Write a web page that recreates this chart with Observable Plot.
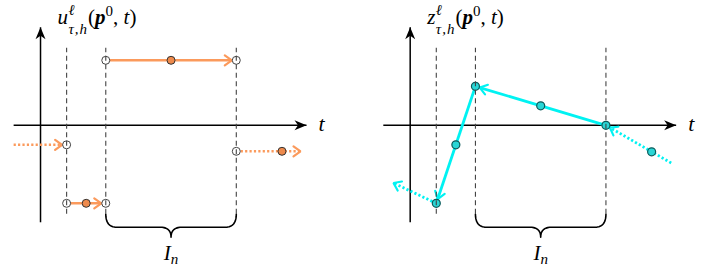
<!DOCTYPE html>
<html><head><meta charset="utf-8">
<script src="https://cdn.jsdelivr.net/npm/d3@7"></script>
<script src="https://cdn.jsdelivr.net/npm/@observablehq/plot@0.6"></script>
<style>
body{margin:0;background:#fff;}
#wrap{display:flex;width:706px;height:273px;overflow:hidden;}
#wrap svg text{font-family:"Liberation Serif","DejaVu Serif",serif !important;}
</style></head><body><div id="wrap"></div>
<script>
// ---------- data ----------
const nodesT = [1, 2.5, 7.5];            // t_{n-2}, t_{n-1}, t_n  (dashed lines)
const intervalT = [2.5, 7.5];            // I_n
const axisT = [-1.03, 10.19];            // horizontal axis extent
const axisV = [-3.73, 3.77];             // vertical axis extent
const dashV = [-3.42, 2.96];             // dashed guide extent

// left panel: piecewise constant u
const uT1 = [-1.03, 1, 2.5, 7.5];
const uT2 = [1, 2.5, 7.5, 9.96];
const uV  = [-0.75, -3, 2.5, -1];
const uDotted = [true, false, false, true];
const uHeadAtNode = [true, true, true, false];
const uMidT = [1.75, 5, 9.25];
const uMidV = [-3, 2.5, -1];

// right panel: piecewise linear z
const zNodeV = [-3, 1.5, 0];
const zMidT = [1.75, 5, 9.25];
const zMidV = [-0.75, 0.75, -1.02];
const zFromT = [7.5, 2.5, 10.0, 1];
const zFromV = [0, 1.5, -1.45, -3];
const zToT   = [2.5, 1, 7.5, -0.64];
const zToV   = [1.5, -3, 0, -2.22];
const zDotted = [false, false, true, true];
const zHeadAtNode = [true, true, true, false];

// labels
const uLabel = ["u", "ℓ", "τ,h", "p", "0", "t"];
const zLabel = ["z", "ℓ", "τ,h", "p", "0", "t"];
const tLabel = "t";
const inLabel = ["I", "n"];

// ---------- helpers ----------
const SERIF = "'Liberation Serif', 'DejaVu Serif', serif";
const ORANGE = "#fb9a5c", ORANGE_DOT = "#ee8a4c";
const CYAN = "#00f2f2", CYAN_DOT = "#2ad6d6", CYAN_EDGE = "#0d5a5a";

function chevron(offset) {
  return (color) => {
    const m = d3.create("svg:marker")
      .attr("viewBox", "-14 -8 20 16").attr("markerUnits", "userSpaceOnUse")
      .attr("markerWidth", 20).attr("markerHeight", 16)
      .attr("refX", offset).attr("refY", 0).attr("orient", "auto")
      .attr("overflow", "visible");
    m.append("path").attr("d", "M-7,-5L0,0L-7,5").attr("fill", "none")
      .attr("stroke", color).attr("stroke-width", 2.2).attr("stroke-dasharray", "none")
      .attr("stroke-linecap", "round").attr("stroke-linejoin", "miter");
    return m.node();
  };
}
function axisHead(color) {
  const m = d3.create("svg:marker")
    .attr("viewBox", "-14 -8 20 16").attr("markerUnits", "userSpaceOnUse")
    .attr("markerWidth", 20).attr("markerHeight", 16)
    .attr("refX", 0).attr("refY", 0).attr("orient", "auto").attr("overflow", "visible");
  m.append("path").attr("d", "M0,0L-12,-5L-8.5,0L-12,5Z").attr("fill", "black").attr("stroke", "none");
  return m.node();
}

function bracePoints(a, b, yTop, yMid, yTip, r) {
  const m = (a + b) / 2, pts = [];
  const quad = (p0, c, p1, n) => {
    for (let i = 0; i <= n; i++) {
      const s = i / n;
      pts.push({t: (1-s)*(1-s)*p0[0] + 2*(1-s)*s*c[0] + s*s*p1[0],
                v: (1-s)*(1-s)*p0[1] + 2*(1-s)*s*c[1] + s*s*p1[1]});
    }
  };
  quad([a, yTop], [a, yMid], [a + r, yMid], 10);
  quad([m - r, yMid], [m, yMid], [m, yTip], 10);
  quad([m, yTip], [m, yMid], [m + r, yMid], 10);
  quad([b - r, yMid], [b, yMid], [b, yTop], 10);
  return pts;
}

function arrowMarks(segs, color, width) {
  const out = [];
  for (const dotted of [false, true]) for (const head of [true, false]) {
    const d = segs.filter(s => s.dotted === dotted && s.head === head);
    if (!d.length) continue;
    out.push(Plot.link(d, {x1: "t1", y1: "v1", x2: "t2", y2: "v2", stroke: color,
      strokeWidth: width, strokeDasharray: dotted ? "2.2 2.2" : null,
      markerEnd: chevron(head ? 4.5 : 0)}));
  }
  return out;
}

function commonMarks() {
  return [
    Plot.link([{t1: axisT[0], t2: axisT[1], v: 0}], {x1: "t1", x2: "t2", y1: "v", y2: "v", stroke: "black", strokeWidth: 1.5, markerEnd: axisHead}),
    Plot.link([{t: 0, v1: axisV[0], v2: axisV[1]}], {x1: "t", x2: "t", y1: "v1", y2: "v2", stroke: "black", strokeWidth: 1.5, markerEnd: axisHead})
  ];
}
function overlayMarks(labelKey) {
  return [
    Plot.ruleX(nodesT, {x: d => d, y1: () => dashV[0], y2: () => dashV[1], stroke: "#444", strokeWidth: 1.1, strokeDasharray: "5 3.5"}),
    Plot.line(bracePoints(intervalT[0], intervalT[1], dashV[0], -3.92, -4.3, 0.42), {x: "t", y: "v", stroke: "black", strokeWidth: 1.6}),
    Plot.text([tLabel], {x: () => 10.65, y: () => -0.2, text: d => d, textAnchor: "start", lineAnchor: "bottom", fontSize: 22, fontStyle: "italic", fontFamily: SERIF}),
    Plot.text([inLabel.join("")], {x: () => (intervalT[0] + intervalT[1]) / 2, y: () => -5.19, text: d => d, textAnchor: "middle", lineAnchor: "bottom", fontSize: 21, fontFamily: SERIF}),
    Plot.text([labelKey], {x: () => 0.65, y: () => 3.91, text: d => d, textAnchor: "start", lineAnchor: "bottom", fontSize: 21, fontFamily: SERIF})
  ];
}

function makePlot(xDomain, marks) {
  return Plot.plot({
    width: 353, height: 273, margin: 0,
    x: {domain: xDomain, axis: null}, y: {domain: [-5.7, 4.8], axis: null},
    style: {background: "white", fontFamily: SERIF, overflow: "visible"},
    marks
  });
}

// ---------- left panel ----------
const uSegs = uT1.map((t1, i) => ({t1, t2: uT2[i], v1: uV[i], v2: uV[i], dotted: uDotted[i], head: uHeadAtNode[i]}));
const uOpen = [];
uSegs.forEach(s => { if (nodesT.includes(s.t1)) uOpen.push({t: s.t1, v: s.v1}); if (nodesT.includes(s.t2)) uOpen.push({t: s.t2, v: s.v2}); });
const uMid = uMidT.map((t, i) => ({t, v: uMidV[i]}));
const uKey = uLabel.join("");
const left = makePlot([-1.533, 11.99], [
  ...commonMarks(),
  ...arrowMarks(uSegs, ORANGE, 2.6),
  Plot.dot(uOpen, {x: "t", y: "v", r: 4, fill: "white", stroke: "#444", strokeWidth: 1}),
  Plot.dot(uMid, {x: "t", y: "v", r: 4, fill: ORANGE_DOT, stroke: "#333", strokeWidth: 1}),
  ...overlayMarks(uKey)
]);

// ---------- right panel ----------
const zSegs = zFromT.map((t1, i) => ({t1, t2: zToT[i], v1: zFromV[i], v2: zToV[i], dotted: zDotted[i], head: zHeadAtNode[i]}));
const zPts = [...nodesT.map((t, i) => ({t, v: zNodeV[i]})), ...zMidT.map((t, i) => ({t, v: zMidV[i]}))];
const zKey = zLabel.join("");
const right = makePlot([-2.172, 11.353], [
  ...commonMarks(),
  ...arrowMarks(zSegs, CYAN, 2.8),
  Plot.dot(zPts, {x: "t", y: "v", r: 4, fill: CYAN_DOT, stroke: CYAN_EDGE, strokeWidth: 1.2}),
  ...overlayMarks(zKey)
]);

const wrap = document.getElementById("wrap");
wrap.append(left, right);

// ---------- rich (math-style) labels ----------
function richText(svg, key, build) {
  d3.select(svg).selectAll("text").filter(function () { return this.textContent === key; }).each(function () {
    const el = d3.select(this); el.text("");
    build(el);
  });
}
function fnLabel(parts) {
  return el => {
    const [name, sup, sub, arg, argSup, v] = parts;
    el.append("tspan").attr("font-style", "italic").text(name);
    const s = el.append("tspan").attr("font-style", "italic").attr("font-size", 15).attr("dy", -9).attr("dx", 0.5).text(sup);
    const w = s.node().getComputedTextLength();
    el.append("tspan").attr("font-style", "italic").attr("font-size", 15).attr("letter-spacing", 1).attr("dy", 19).attr("dx", -w).text(sub);
    el.append("tspan").attr("dy", -10).attr("dx", 0).text("(");
    el.append("tspan").attr("font-style", "italic").attr("font-weight", "bold").text(arg);
    el.append("tspan").attr("font-size", 15).attr("dy", -8).text(argSup);
    el.append("tspan").attr("dy", 8).text(", ");
    el.append("tspan").attr("font-style", "italic").text(v);
    el.append("tspan").text(")");
  };
}
const inBuild = el => {
  el.append("tspan").attr("font-style", "italic").text(inLabel[0]);
  el.append("tspan").attr("font-style", "italic").attr("font-size", 15).attr("dy", 4).text(inLabel[1]);
};
richText(left, uKey, fnLabel(uLabel));
richText(right, zKey, fnLabel(zLabel));
richText(left, inLabel.join(""), inBuild);
richText(right, inLabel.join(""), inBuild);
</script></body></html>
